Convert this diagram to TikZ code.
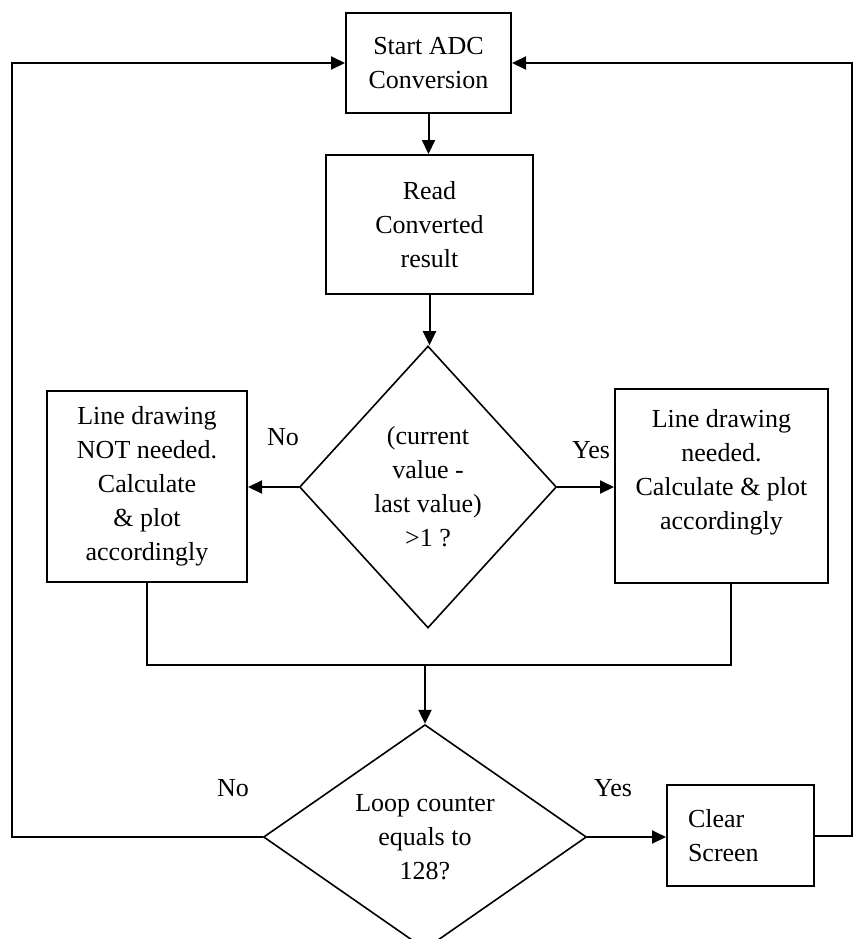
\documentclass[tikz,border=0pt]{standalone}
\usepackage{fontspec}
\setmainfont{Liberation Serif}
\usepackage{tikz}
\usetikzlibrary{arrows.meta}
\usetikzlibrary{shapes.geometric}
\tikzset{box/.style = {draw, line width = 1pt, align = center, inner sep = 0, font = \fontsize{13}{17}\selectfont}}
\tikzset{choice/.style = {draw, diamond, line width = 0.8pt, align = center, inner sep = 0, font = \fontsize{13}{17}\selectfont}}
\tikzset{lbl/.style = {font = \fontsize{13}{17}\selectfont}}
\tikzset{link/.style = {line width = 1pt}}
\tikzset{arr/.style = {link, -{Triangle[length = 7pt, width = 6.5pt]}}}

\begin{document}
\begin{tikzpicture}[x = 0.5pt, y = -0.5pt]
    \useasboundingbox (0, 0) rectangle (853, 939);

    \node [box, minimum width = 82.5pt, minimum height = 50pt] (start) at (428.5, 63) {Start ADC\\Conversion};
    \node [box, minimum width = 103.5pt, minimum height = 69.5pt] (read) at (429.5, 224.5) {Read\\Converted\\result};
    \node [choice, minimum width = 128.5pt, minimum height = 141pt] (cmp) at (428, 487) {(current\\value -\\last value)\\>1 ?};
    \node [box, minimum width = 100pt, minimum height = 95.5pt] (nodraw) at (147, 486.5) {Line drawing\\NOT needed.\\Calculate\\\& plot\\accordingly};
    \node [box, minimum width = 106.5pt, minimum height = 97pt] (draw) at (721.5, 486) {Line drawing\\needed.\\Calculate \& plot\\accordingly\\\mbox{}};
    \node [choice, minimum width = 161.5pt, minimum height = 106pt] (loop) at (425, 837) {Loop counter\\equals to\\128?};
    \node [box, align = left, text width = 52.5pt, minimum width = 73.5pt, minimum height = 50.5pt] (clear) at (740.5, 835.5) {Clear\\Screen};

    \node [lbl] (cmpno) at (283, 437) {No};
    \node [lbl] (cmpyes) at (591, 450) {Yes};
    \node [lbl] (loopno) at (233, 788) {No};
    \node [lbl] (loopyes) at (613, 788) {Yes};

    \coordinate (merge) at (425, 665);
    \coordinate (lside) at (12, 0);
    \coordinate (rside) at (852, 0);

    \draw [arr] (start.south) -- (start.south |- read.north);
    \draw [arr] (read.south) -- (read.south |- cmp.north);
    \draw [arr] (cmp.west) -- (cmp.west -| nodraw.east);
    \draw [arr] (cmp.east) -- (cmp.east -| draw.west);
    \draw [link] (nodraw.south) |- (merge);
    \draw [link] ([xshift = 4.75pt]draw.south) |- (merge);
    \draw [arr] (merge) -- (loop.north);
    \draw [arr] (loop.east) -- (loop.east -| clear.west);
    \draw [arr] (loop.west) -| (lside |- start.west) -- (start.west);
    \draw [arr] (clear.east) -| (rside |- start.east) -- (start.east);
\end{tikzpicture}
\end{document}
